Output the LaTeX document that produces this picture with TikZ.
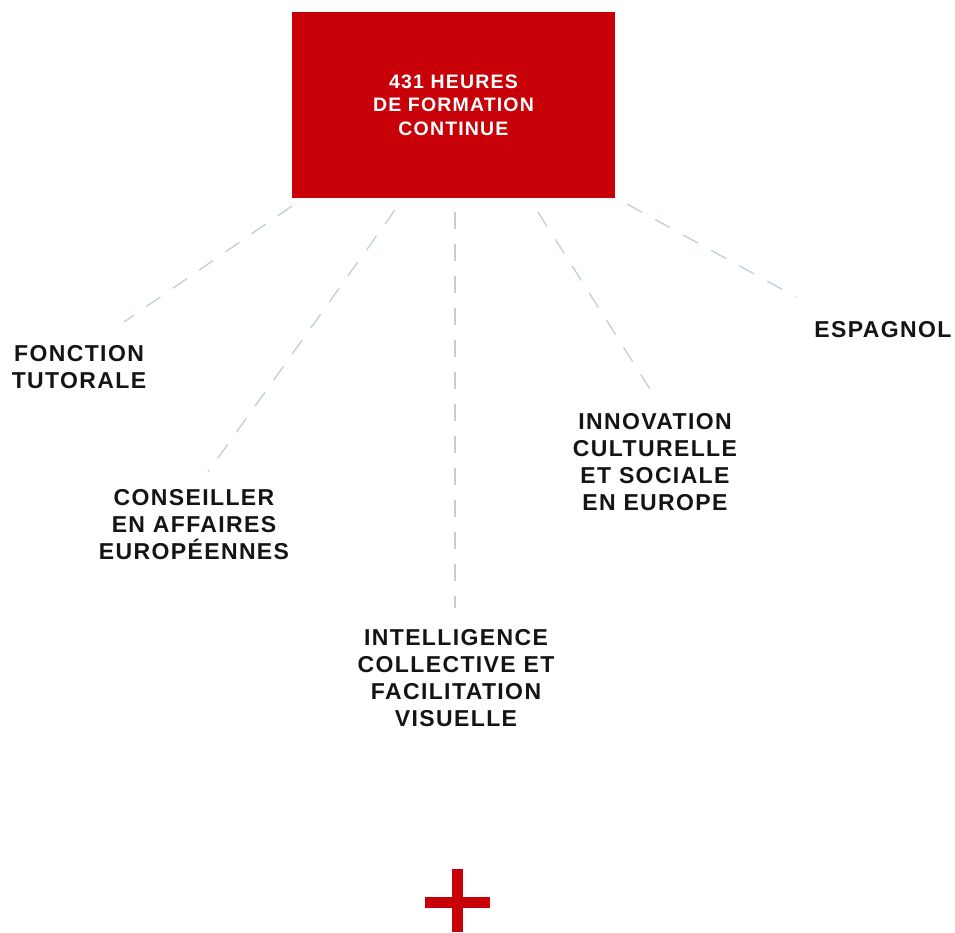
\documentclass[tikz,border=0pt]{standalone}
\usepackage{fontspec}
\setmainfont{Liberation Sans}
\newfontfamily\lblfont[LetterSpace=6]{Liberation Sans}
\definecolor{brandred}{RGB}{200,0,8}
\definecolor{dashblue}{RGB}{190,206,218}
\definecolor{inkblack}{RGB}{20,20,20}
\tikzset{
  redbox/.style={fill=brandred, draw=none, minimum width=323pt, minimum height=186pt, inner sep=0pt,
    text=white, align=center, font=\lblfont\bfseries\fontsize{19.5}{23.5}\selectfont},
  lbl/.style={text=inkblack, align=center, inner sep=0pt, font=\lblfont\bfseries\fontsize{23}{27}\selectfont},
  dashline/.style={draw=dashblue, line width=1.3pt, dash pattern=on 17pt off 15pt}
}
\begin{document}
\begin{tikzpicture}[x=1pt,y=-1pt]
\useasboundingbox (0,0) rectangle (955,932);
\node[redbox] (box) at (453.5,105) {431 HEURES\\DE FORMATION\\CONTINUE};
\node[lbl] (n1) at (79,367) {FONCTION\\TUTORALE};
\node[lbl] (n2) at (194,525) {CONSEILLER\\EN AFFAIRES\\EUROPÉENNES};
\node[lbl] (n3) at (456,678) {INTELLIGENCE\\COLLECTIVE ET\\FACILITATION\\VISUELLE};
\node[lbl] (n4) at (655,462) {INNOVATION\\CULTURELLE\\ET SOCIALE\\EN EUROPE};
\node[lbl] (n5) at (883,330) {ESPAGNOL};
\coordinate (s1) at (292,206);  \coordinate (e1) at (124,322);
\coordinate (s2) at (395,210);  \coordinate (e2) at (208,472);
\coordinate (s3) at (455,212);  \coordinate (e3) at (455,608);
\coordinate (s4) at (538,212);  \coordinate (e4) at (650,389);
\coordinate (s5) at (627,204);  \coordinate (e5) at (796,297);
\draw[dashline] (s1) -- (e1);
\draw[dashline] (s2) -- (e2);
\draw[dashline] (s3) -- (e3);
\draw[dashline] (s4) -- (e4);
\draw[dashline] (s5) -- (e5);
\fill[brandred] (452,869) rectangle (463,932);
\fill[brandred] (425,897) rectangle (490,908);
\end{tikzpicture}
\end{document}
